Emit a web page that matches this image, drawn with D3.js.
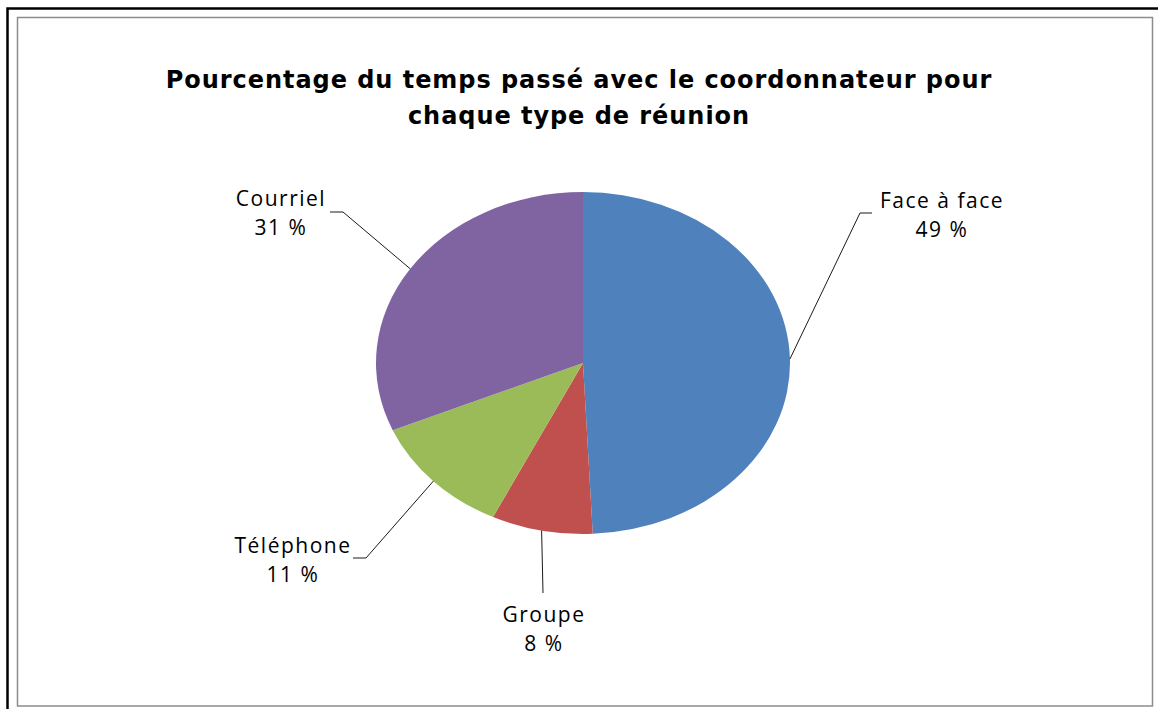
<!DOCTYPE html>
<html>
<head>
<meta charset="utf-8">
<script src="https://cdn.jsdelivr.net/npm/d3@7"></script>
<style>
  body { margin: 0; background: #fff; }
  svg { display: block; }
</style>
</head>
<body>
<svg id="chart"></svg>
<script>
// chart data
var categories = ["Face à face", "Groupe", "Téléphone", "Courriel"];
var values = [49.2, 7.9, 11.4, 31.4];
var colors = ["#4F81BD", "#C0504D", "#9BBB59", "#8064A2"];
var titleLines = ["Pourcentage du temps passé avec le coordonnateur pour", "chaque type de réunion"];

const width = 1158, height = 709;
const svg = d3.select("#chart").attr("width", width).attr("height", height);

// frames
svg.append("rect").attr("x", 7.5).attr("y", 8.5).attr("width", 1160).attr("height", 710)
   .attr("fill", "none").attr("stroke", "#000").attr("stroke-width", 2.5);
svg.append("rect").attr("x", 17.5).attr("y", 17.5).attr("width", 1135).attr("height", 688.5)
   .attr("fill", "#fff").attr("stroke", "#8c8c8c").attr("stroke-width", 1.5);

// title
svg.append("g").selectAll("text").data(titleLines).enter().append("text")
   .attr("x", 579).attr("y", (d, i) => 88 + i * 36)
   .attr("text-anchor", "middle")
   .style("font-family", "'DejaVu Sans', sans-serif")
   .style("font-weight", "bold").style("font-size", "24px")
   .style("letter-spacing", "0.95px")
   .text(d => d);

// pie (ellipse)
const cx = 583, cy = 363, rx = 207, ry = 171;
const pie = d3.pie().sort(null).value(d => d);
const arcs = pie(values);
const arc = d3.arc().innerRadius(0).outerRadius(ry);

const g = svg.append("g").attr("transform", `translate(${cx},${cy}) scale(${rx / ry},1)`);
g.selectAll("path").data(arcs).enter().append("path")
   .attr("d", arc)
   .attr("fill", (d, i) => colors[i]);

// labels: anchor positions of each label block (center x, first baseline)
var labelPos = [[942, 208], [544, 622], [293, 553], [281, 206]];
// leader line elbows
var elbows = [[[860, 213], [872, 213]], [[543, 593], [543, 593]], [[366, 558], [353, 558]], [[343, 212], [330, 212]]];

const fmt = v => Math.round(v) + " %";
const labels = svg.append("g");
arcs.forEach(function(a, i) {
    const mid = (a.startAngle + a.endAngle) / 2;
    const ex = cx + rx * Math.sin(mid), ey = cy - ry * Math.cos(mid);
    const pts = [[ex, ey]].concat(elbows[i]);
    labels.append("path")
       .attr("d", d3.line()(pts))
       .attr("fill", "none").attr("stroke", "#1a1a1a").attr("stroke-width", 1);
    const t = labels.append("text")
       .attr("text-anchor", "middle")
       .style("font-family", "'Open Sans', 'Noto Sans', sans-serif")
       .style("font-size", "21px").style("letter-spacing", "1.5px")
       .attr("fill", "#000");
    t.append("tspan").attr("x", labelPos[i][0]).attr("y", labelPos[i][1]).text(categories[i]);
    t.append("tspan").attr("x", labelPos[i][0]).attr("y", labelPos[i][1] + 29).text(fmt(values[i]));
});
</script>
</body>
</html>
